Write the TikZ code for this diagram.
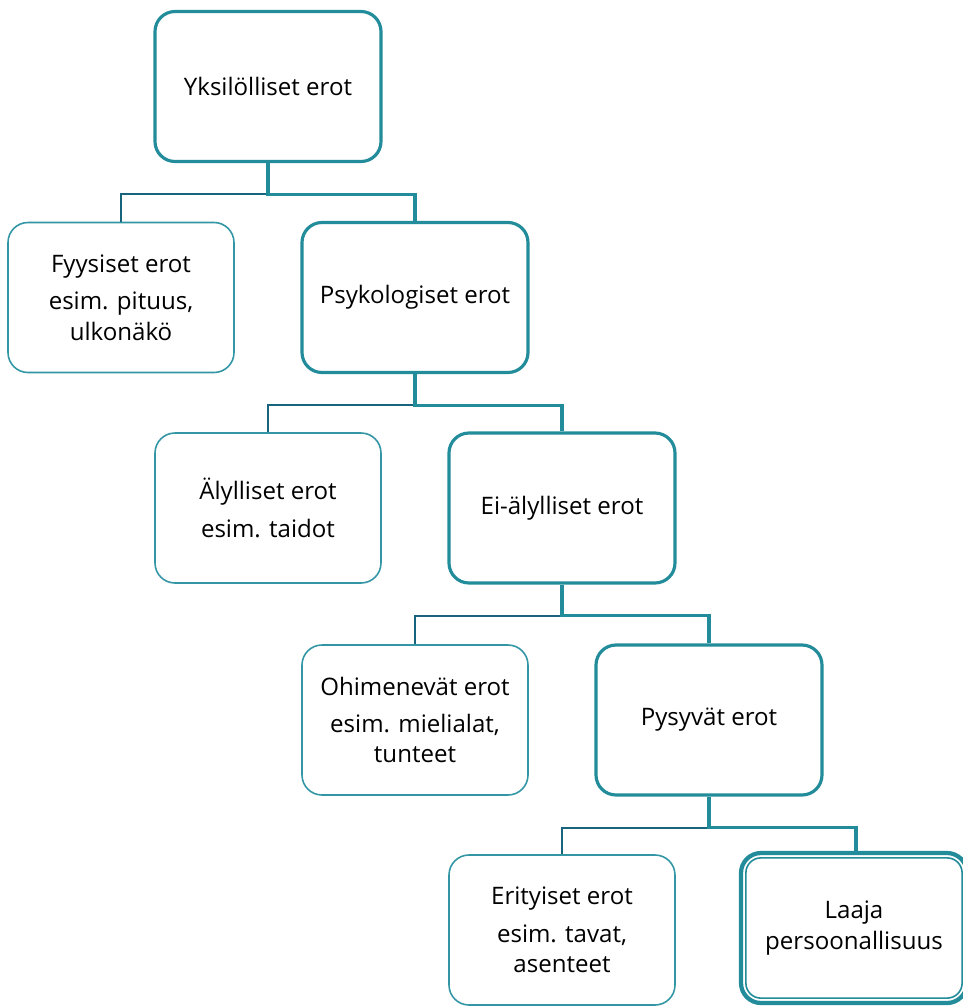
\documentclass[tikz,border=0pt]{standalone}
\usepackage{fontspec}
\setmainfont{Open Sans}
\usetikzlibrary{positioning, calc}
\definecolor{TealMain}{RGB}{35,140,155}
\definecolor{TealDark}{RGB}{24,100,124}
\definecolor{TealLight}{RGB}{50,150,165}

\begin{document}
\begin{tikzpicture}[
    box/.style={draw=TealLight, line width=0.9pt, fill=white, rounded corners=0.4cm,
      minimum width=4.52cm, minimum height=3.0cm, align=center,
      font=\fontsize{13.7}{17.3}\selectfont},
    mainbox/.style={box, draw=TealMain, line width=1.8pt},
    linkmain/.style={TealMain, line width=1.8pt},
    linkside/.style={TealDark, line width=1.1pt}]
    \def\dx{2.94} \def\dj{0.62}
    % Canvas
    \useasboundingbox (0,0) rectangle (19.26,-20.14);
    % Level 0
    \node[mainbox] (root) at (5.36,-1.73) {Yksilölliset erot};
    % Level 1
    \node[box] (fyys) at (5.36-\dx,-5.95) {Fyysiset erot\\[4pt]esim. pituus,\\ulkonäkö};
    \node[mainbox] (psyk) at (5.36+\dx,-5.95) {Psykologiset erot};
    % Level 2
    \node[box] (aly) at (8.30-\dx,-10.16) {Älylliset erot\\[4pt]esim. taidot};
    \node[mainbox] (eialy) at (8.30+\dx,-10.16) {Ei-älylliset erot};
    % Level 3
    \node[box] (ohim) at (11.24-\dx,-14.40) {Ohimenevät erot\\[4pt]esim. mielialat,\\tunteet};
    \node[mainbox] (pysy) at (11.24+\dx,-14.40) {Pysyvät erot};
    % Level 4
    \node[box] (erit) at (14.18-\dx,-18.60) {Erityiset erot\\[4pt]esim. tavat,\\asenteet};
    \node[mainbox, line width=2.4pt] (laaja) at (14.18+\dx-0.04,-18.56) {Laaja\\persoonallisuus};
    \draw[TealMain, line width=0.9pt, rounded corners=0.3cm]
      ($(laaja.north west)+(0.14,-0.14)$) rectangle ($(laaja.south east)+(-0.14,0.14)$);
    % Junctions
    \coordinate (j1) at ($(root.south)+(0,-\dj)$);
    \coordinate (j2) at ($(psyk.south)+(0,-\dj)$);
    \coordinate (j3) at ($(eialy.south)+(0,-\dj)$);
    \coordinate (j4) at ($(pysy.south)+(0,-\dj)$);
    % Connectors
    \draw[linkside] (j1) -| (fyys.north);
    \draw[linkmain] (root.south) -- (j1) -| (psyk.north);
    \draw[linkside] (j2) -| (aly.north);
    \draw[linkmain] (psyk.south) -- (j2) -| (eialy.north);
    \draw[linkside] (j3) -| (ohim.north);
    \draw[linkmain] (eialy.south) -- (j3) -| (pysy.north);
    \draw[linkside] (j4) -| (erit.north);
    \draw[linkmain] (pysy.south) -- (j4) -| ($(laaja.north)+(0.04,0)$);
\end{tikzpicture}
\end{document}
